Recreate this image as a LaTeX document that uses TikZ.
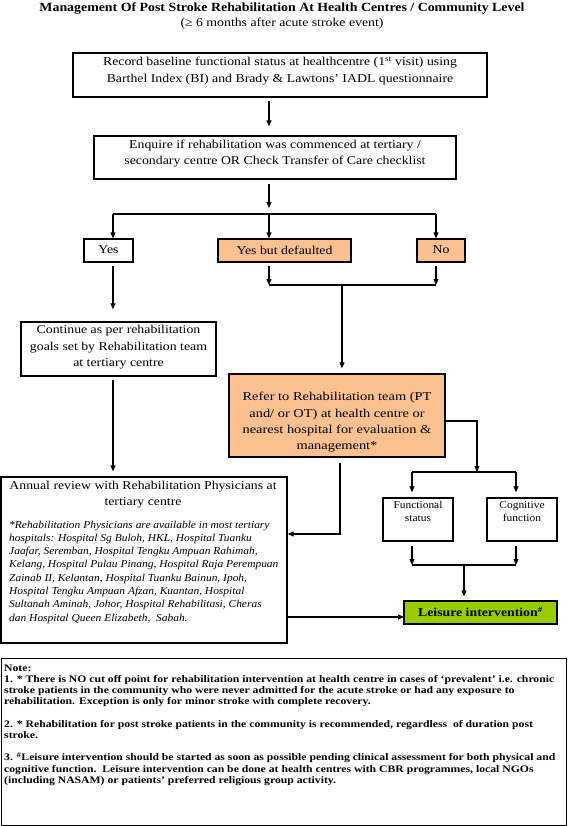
\documentclass[tikz,border=0pt]{standalone}
\usepackage{fontspec}
\setmainfont[FakeStretch=1.15]{Liberation Serif}
\newfontfamily\titlefont[FakeStretch=1.11]{Liberation Serif}
\newfontfamily\italfont[FakeStretch=1.08]{Liberation Serif}
\newfontfamily\referfont[FakeStretch=1.2]{Liberation Serif}
\newfontfamily\smallfont[FakeStretch=1.09]{Liberation Serif}
\newfontfamily\notefont[FakeStretch=1.17]{Liberation Serif}
\usetikzlibrary{arrows.meta}
\definecolor{peach}{HTML}{FAC090}
\definecolor{lgreen}{HTML}{99CC00}
\begin{document}
\begin{tikzpicture}[x=1pt,y=-1pt,
  box/.style={draw=black, line width=1.3pt, inner sep=0pt, fill=white},
  obox/.style={box, fill=peach},
  gbox/.style={box, fill=lgreen},
  txt/.style={inner sep=0pt, align=center, font=\fontsize{12}{16.5}\selectfont},
  smtxt/.style={inner sep=0pt, align=center, font=\smallfont\fontsize{10.5}{13}\selectfont},
  con/.style={line width=1.1pt},
  arr/.style={con, -{Triangle[length=6pt,width=5pt]}}]
\useasboundingbox (0,0) rectangle (567,826);
\fill[white] (0,0) rectangle (567,826);
% title
\node[inner sep=0pt, font=\titlefont\fontsize{12.5}{14}\selectfont\bfseries] (title) at (282,8) {Management Of Post Stroke Rehabilitation At Health Centres / Community Level};
\node[inner sep=0pt, font=\fontsize{12}{14}\selectfont] (subtitle) at (282,24) {(≥ 6 months after acute stroke event)};
% boxes
\node[box, minimum width=414, minimum height=44] (b1) at (280,75) {};
\node[txt, font=\fontsize{12}{16.5}\selectfont] (b1t) at (280,71) {Record baseline functional status at healthcentre (1\textsuperscript{st} visit) using\\Barthel Index (BI) and Brady \& Lawtons’ IADL questionnaire};
\node[box, minimum width=362, minimum height=43] (b2) at (275,157.5) {};
\node[txt] (b2t) at (275,153.5) {Enquire if rehabilitation was commenced at tertiary /\\secondary centre OR Check Transfer of Care checklist};
\node[box, minimum width=49, minimum height=23] (yes) at (108.5,250.5) {};
\node[txt] (yest) at (108.5,250) {Yes};
\node[obox, minimum width=133, minimum height=23] (ybd) at (284.5,250.5) {};
\node[txt] (ybdt) at (284.5,250) {Yes but defaulted};
\node[obox, minimum width=48, minimum height=23] (no) at (441,250.5) {};
\node[txt] (not) at (441,250) {No};
\node[box, minimum width=195, minimum height=54] (cont) at (118.5,349) {};
\node[txt] (contt) at (118.5,347.5) {Continue as per rehabilitation\\goals set by Rehabilitation team\\at tertiary centre};
\node[obox, minimum width=216, minimum height=83] (refer) at (337,415.5) {};
\node[txt, font=\referfont\fontsize{12}{16.3}\selectfont] (refert) at (337,422.5) {Refer to Rehabilitation team (PT\\and/ or OT) at health centre or\\nearest hospital for evaluation \&\\management*};
\node[box, minimum width=286, minimum height=166] (annual) at (144,560) {};
\node[txt] (annualt) at (143,494.5) {Annual review with Rehabilitation Physicians at\\tertiary centre};
\node[inner sep=0pt, align=left, anchor=north west, font=\italfont\fontsize{10.6}{13.3}\selectfont\itshape] (annuali) at (9,520.5) {*Rehabilitation Physicians are available in most tertiary\\hospitals: Hospital Sg Buloh, HKL, Hospital Tuanku\\Jaafar, Seremban, Hospital Tengku Ampuan Rahimah,\\Kelang, Hospital Pulau Pinang, Hospital Raja Perempuan\\Zainab II, Kelantan, Hospital Tuanku Bainun, Ipoh,\\Hospital Tengku Ampuan Afzan, Kuantan, Hospital\\Sultanah Aminah, Johor, Hospital Rehabilitasi, Cheras\\dan Hospital Queen Elizabeth,\ \ Sabah.};
\node[box, minimum width=70, minimum height=43] (func) at (418,519.5) {};
\node[smtxt] (funct) at (418,511.5) {Functional\\status};
\node[box, minimum width=70, minimum height=43] (cog) at (522,519.5) {};
\node[smtxt] (cogt) at (522,511.5) {Cognitive\\function};
\node[gbox, minimum width=153, minimum height=23] (leis) at (480.5,612.5) {};
\node[txt, font=\fontsize{12}{14}\selectfont\bfseries] (leist) at (480.5,612) {Leisure intervention\textsuperscript{\#}};
\node[box, line width=1pt, minimum width=565, minimum height=167] (note) at (283.5,741.5) {};
\node[inner sep=0pt, align=left, anchor=north west, font=\notefont\fontsize{10}{11.2}\selectfont\bfseries] (notet) at (4,664.5) {Note:\\1. * There is NO cut off point for rehabilitation intervention at health centre in cases of ‘prevalent’ i.e. chronic\\stroke patients in the community who were never admitted for the acute stroke or had any exposure to\\rehabilitation. Exception is only for minor stroke with complete recovery.\\[11.2pt]2. * Rehabilitation for post stroke patients in the community is recommended, regardless\ \ of duration post\\stroke.\\[11.2pt]3. \textsuperscript{\#}Leisure intervention should be started as soon as possible pending clinical assessment for both physical and\\cognitive function.\ \ Leisure intervention can be done at health centres with CBR programmes, local NGOs\\(including NASAM) or patients’ preferred religious group activity.};
% junction coordinates
\coordinate (j1) at (269,214);
\coordinate (yl) at (113,214);
\coordinate (nl) at (436,214);
\coordinate (j2) at (342,285);
\coordinate (rc) at (477,421);
\coordinate (j3) at (477,472);
\coordinate (fl) at (412,472);
\coordinate (cl) at (516,472);
\coordinate (rb) at (340,534);
\coordinate (j4) at (464,565);
\coordinate (la) at (404,617);
% connectors
\draw[arr, shorten <=3pt, shorten >=9pt] (b1.south -| j1) -- (b2.north -| j1);
\draw[arr, shorten <=4pt, shorten >=6pt] (b2.south -| j1) -- (j1);
\draw[con] (yl) -- (nl);
\draw[arr] (yl) -- (yl |- yes.north);
\draw[arr] (j1) -- (j1 |- ybd.north);
\draw[arr] (nl) -- (nl |- no.north);
\draw[arr, shorten <=3pt] (ybd.south -| j1) -- (j1 |- j2);
\draw[arr, shorten <=3pt] (no.south -| nl) -- (nl |- j2);
\draw[con] (j1 |- j2) -- (nl |- j2);
\draw[arr, shorten >=5pt] (j2) -- (j2 |- refer.north);
\draw[arr, shorten <=3pt, shorten >=12pt] (yes.south -| yl) -- (cont.north -| yl);
\draw[arr, shorten <=3pt, shorten >=5pt] (cont.south -| yl) -- (annual.north -| yl);
\draw[arr] (refer.east |- rc) -- (rc) -- (j3);
\draw[con] (fl) -- (cl);
\draw[arr, shorten >=5pt] (fl) -- (fl |- func.north);
\draw[arr, shorten >=5pt] (cl) -- (cl |- cog.north);
\draw[arr, shorten <=5pt] (refer.south -| rb) -- (rb) -- (rb -| annual.east);
\draw[arr, shorten <=4pt] (func.south -| fl) -- (fl |- j4);
\draw[arr, shorten <=4pt] (cog.south -| cl) -- (cl |- j4);
\draw[con] (fl |- j4) -- (cl |- j4);
\draw[arr, shorten >=4pt] (j4) -- (j4 |- leis.north);
\draw[arr] (annual.east |- la) -- (la);
\end{tikzpicture}
\end{document}
